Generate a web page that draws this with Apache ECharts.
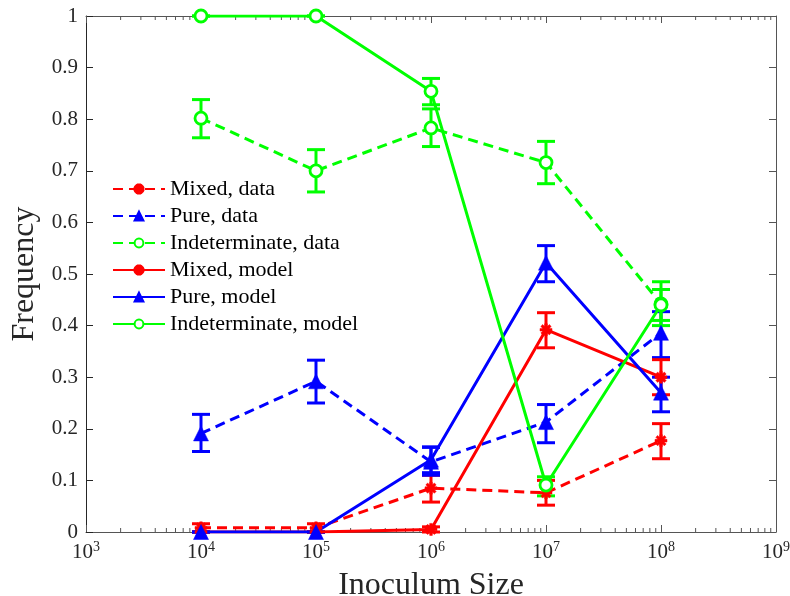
<!DOCTYPE html>
<html><head><meta charset="utf-8">
<script src="https://cdn.jsdelivr.net/npm/echarts@6/dist/echarts.min.js"></script>
<style>html,body{margin:0;padding:0;background:#fff}#c{width:790px;height:596px}</style>
</head><body><div id="c"></div>
<script>
// ---- data ----
const inoculum = [1e4, 1e5, 1e6, 1e7, 1e8];

const mixedData   = [0.008, 0.008, 0.085, 0.076, 0.177];
const mixedDataLo = [0.000, 0.000, 0.058, 0.052, 0.142];
const mixedDataHi = [0.016, 0.016, 0.110, 0.100, 0.210];

const pureData   = [0.191, 0.292, 0.136, 0.213, 0.386];
const pureDataLo = [0.156, 0.250, 0.110, 0.173, 0.338];
const pureDataHi = [0.228, 0.333, 0.164, 0.247, 0.427];

const indetData   = [0.802, 0.700, 0.783, 0.716, 0.442];
const indetDataLo = [0.764, 0.659, 0.747, 0.675, 0.400];
const indetDataHi = [0.838, 0.741, 0.820, 0.757, 0.485];

const mixedModel   = [0.000, 0.000, 0.005, 0.392, 0.300];
const mixedModelLo = [0.000, 0.000, 0.000, 0.357, 0.266];
const mixedModelHi = [0.000, 0.000, 0.010, 0.425, 0.334];

const pureModel   = [0.000, 0.000, 0.140, 0.522, 0.270];
const pureModelLo = [0.000, 0.000, 0.115, 0.485, 0.233];
const pureModelHi = [0.000, 0.000, 0.165, 0.555, 0.300];

const indetModel   = [1.000, 1.000, 0.854, 0.091, 0.440];
const indetModelLo = [1.000, 1.000, 0.828, 0.070, 0.410];
const indetModelHi = [1.000, 1.000, 0.879, 0.107, 0.470];

const seriesNames = ['Mixed, data', 'Pure, data', 'Indeterminate, data',
                     'Mixed, model', 'Pure, model', 'Indeterminate, model'];
const xMin = 1e3, xMax = 1e9;
const decadeExps = [3, 4, 5, 6, 7, 8];
const minorMultipliers = [2, 3, 4, 5, 6, 7, 8, 9];

// ---- styling ----
const RED = '#ff0000', BLUE = '#0000ff', GREEN = '#00ff00';
const FONT = 'Liberation Serif';
const AXC = '#262626';

// asterisk symbol (plus + x)
function asteriskPath() {
  const L = 10, W = 2.2, parts = [];
  [0, 45, 90, 135].forEach(a => {
    const t = a * Math.PI / 180, dx = Math.cos(t), dy = Math.sin(t), nx = -dy, ny = dx;
    const pts = [[L*dx + W*nx, L*dy + W*ny], [L*dx - W*nx, L*dy - W*ny],
                 [-L*dx - W*nx, -L*dy - W*ny], [-L*dx + W*nx, -L*dy + W*ny]];
    parts.push('M' + pts.map(p => p[0].toFixed(2) + ' ' + p[1].toFixed(2)).join(' L') + ' Z');
  });
  return 'path://' + parts.join(' ');
}
const STAR = asteriskPath();

const minorTicks = [];
decadeExps.forEach(e => minorMultipliers.forEach(m => minorTicks.push([m * Math.pow(10, e), 0])));

function errSeries(name, color, vals, lo, hi) {
  return {
    type: 'custom', name: name, silent: true,
    xAxisIndex: 0, yAxisIndex: 0,
    data: inoculum.map((x, i) => [x, lo[i], hi[i]]),
    encode: { x: 0, y: [1, 2] },
    renderItem: function (params, api) {
      const x = api.value(0);
      const pHi = api.coord([x, api.value(2)]);
      const pLo = api.coord([x, api.value(1)]);
      const hw = 9, st = { stroke: color, lineWidth: 3, fill: null };
      return { type: 'group', children: [
        { type: 'line', shape: { x1: pHi[0], y1: pHi[1], x2: pLo[0], y2: pLo[1] }, style: st },
        { type: 'line', shape: { x1: pHi[0]-hw, y1: pHi[1], x2: pHi[0]+hw, y2: pHi[1] }, style: st },
        { type: 'line', shape: { x1: pLo[0]-hw, y1: pLo[1], x2: pLo[0]+hw, y2: pLo[1] }, style: st }
      ]};
    },
    z: 3
  };
}

function lineSeries(name, color, vals, dashed, symbol, size, filled) {
  return {
    type: 'line', name: name, data: inoculum.map((x, i) => [x, vals[i]]),
    xAxisIndex: 0, yAxisIndex: 0,
    symbol: symbol, symbolSize: size, showAllSymbol: true,
    lineStyle: { color: color, width: 3, type: dashed ? [10, 6] : 'solid' },
    itemStyle: { color: filled ? color : '#ffffff', borderColor: color, borderWidth: filled ? 0.5 : 2.8 },
    emphasis: { disabled: true }, animation: false, z: 3
  };
}

const series = [
  errSeries('eb1', RED, mixedData, mixedDataLo, mixedDataHi),
  lineSeries(seriesNames[0], RED, mixedData, true, STAR, 12, true),
  errSeries('eb2', BLUE, pureData, pureDataLo, pureDataHi),
  lineSeries(seriesNames[1], BLUE, pureData, true, 'triangle', 15, true),
  errSeries('eb3', GREEN, indetData, indetDataLo, indetDataHi),
  lineSeries(seriesNames[2], GREEN, indetData, true, 'circle', 12, false),
  errSeries('eb4', RED, mixedModel, mixedModelLo, mixedModelHi),
  lineSeries(seriesNames[3], RED, mixedModel, false, STAR, 12, true),
  errSeries('eb5', BLUE, pureModel, pureModelLo, pureModelHi),
  lineSeries(seriesNames[4], BLUE, pureModel, false, 'triangle', 15, true),
  errSeries('eb6', GREEN, indetModel, indetModelLo, indetModelHi),
  lineSeries(seriesNames[5], GREEN, indetModel, false, 'circle', 12, false),
  {
    type: 'custom', name: 'minorTicks', silent: true, xAxisIndex: 0, yAxisIndex: 0,
    data: minorTicks, encode: { x: 0, y: 1 },
    renderItem: function (params, api) {
      const cs = params.coordSys;
      const px = api.coord([api.value(0), 0])[0];
      const st = { stroke: '#555', lineWidth: 1 };
      return { type: 'group', children: [
        { type: 'line', shape: { x1: px, y1: cs.y + cs.height, x2: px, y2: cs.y + cs.height - 4 }, style: st },
        { type: 'line', shape: { x1: px, y1: cs.y, x2: px, y2: cs.y + 4 }, style: st }
      ]};
    },
    z: 1
  }
];

const xRich = {
  b: { fontFamily: FONT, fontSize: 21, color: AXC, verticalAlign: 'bottom' },
  s: { fontFamily: FONT, fontSize: 14, color: AXC, verticalAlign: 'bottom', padding: [0, 0, 9, 0] }
};

const chart = echarts.init(document.getElementById('c'), null, { renderer: 'canvas' });
chart.setOption({
  animation: false,
  backgroundColor: '#ffffff',
  grid: { left: 86, right: 14, top: 16, bottom: 64, containLabel: false, outerBoundsMode: 'none' },
  legend: {
    data: seriesNames, orient: 'vertical', left: 107, top: 173,
    itemWidth: 52, itemHeight: 11, itemGap: 5,
    textStyle: { fontFamily: FONT, fontSize: 22, color: '#000', lineHeight: 22 },
    backgroundColor: 'rgba(255,255,255,0)'
  },
  xAxis: [
    {
      type: 'log', logBase: 10, min: xMin, max: xMax, position: 'bottom',
      name: 'Inoculum Size', nameLocation: 'middle', nameGap: 38,
      nameTextStyle: { fontFamily: FONT, fontSize: 32, color: AXC },
      axisLine: { show: true, onZero: false, lineStyle: { color: '#555', width: 1 } },
      axisTick: { show: true, inside: true, length: 7, lineStyle: { color: '#555' } },
      axisLabel: {
        margin: 8,
        formatter: v => '{b|10}{s|' + Math.round(Math.log10(v)) + '}',
        rich: xRich
      },
      splitLine: { show: false }
    },
    {
      type: 'log', logBase: 10, min: xMin, max: xMax, position: 'top',
      axisLine: { show: true, onZero: false, lineStyle: { color: '#555', width: 1 } },
      axisTick: { show: true, inside: true, length: 7, lineStyle: { color: '#555' } },
      axisLabel: { show: false }, splitLine: { show: false }
    }
  ],
  yAxis: [
    {
      type: 'value', min: 0, max: 1, interval: 0.1, position: 'left',
      name: 'Frequency', nameLocation: 'middle', nameGap: 42,
      nameTextStyle: { fontFamily: FONT, fontSize: 32, color: AXC },
      axisLine: { show: true, lineStyle: { color: AXC, width: 1 } },
      axisTick: { show: true, inside: true, length: 7, lineStyle: { color: AXC } },
      axisLabel: { margin: 8, fontFamily: FONT, fontSize: 21, color: AXC,
                   formatter: v => String(Math.round(v * 10) / 10) },
      splitLine: { show: false }
    },
    {
      type: 'value', min: 0, max: 1, interval: 0.1, position: 'right',
      axisLine: { show: true, lineStyle: { color: '#555', width: 1 } },
      axisTick: { show: true, inside: true, length: 7, lineStyle: { color: '#555' } },
      axisLabel: { show: false }, splitLine: { show: false }
    }
  ],
  series: series
});
</script>
</body></html>
